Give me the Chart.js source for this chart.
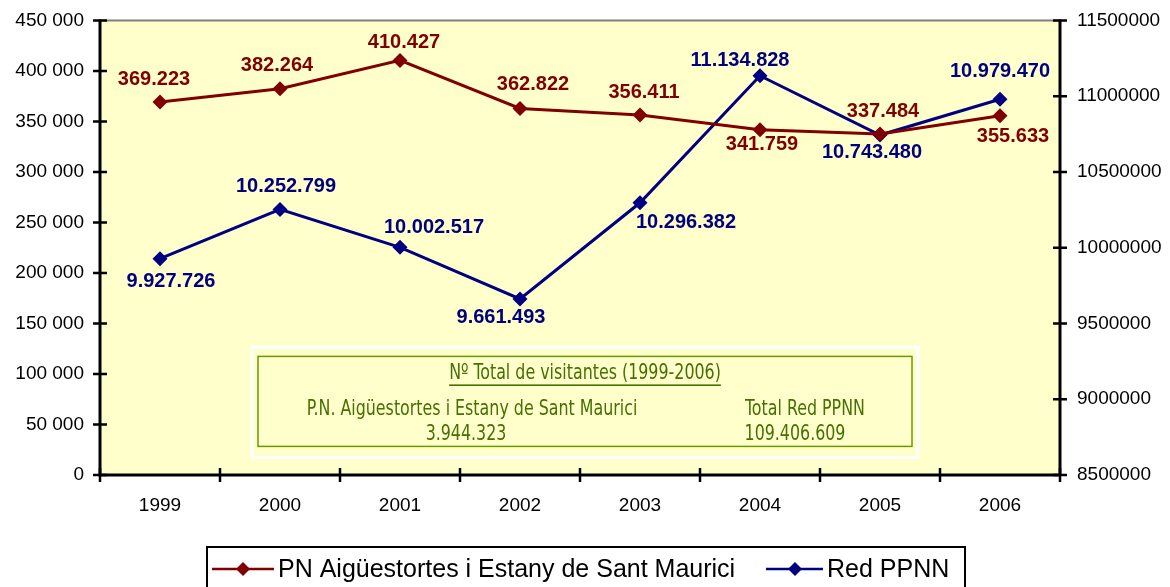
<!DOCTYPE html>
<html>
<head>
<meta charset="utf-8">
<script src="https://cdn.jsdelivr.net/npm/chart.js@4.4.1/dist/chart.umd.min.js"></script>
<style>
html,body{margin:0;padding:0;background:#fff}
</style>
</head>
<body>
<canvas id="myChart" width="1170" height="587"></canvas>
<script>
var years = ['1999','2000','2001','2002','2003','2004','2005','2006']
var parkVisitors = [369223,382264,410427,362822,356411,341759,337484,355633]
var networkVisitors = [9927726,10252799,10002517,9661493,10296382,11134828,10743480,10979470]
var leftTicks = [0,50000,100000,150000,200000,250000,300000,350000,400000,450000]
var rightTicks = [8500000,9000000,9500000,10000000,10500000,11000000,11500000]

var parkName = 'PN Aigüestortes i Estany de Sant Maurici'
var networkName = 'Red PPNN'
var boxTitle = 'Nº Total de visitantes (1999-2006)'
var boxParkName = 'P.N. Aigüestortes i Estany de Sant Maurici'
var boxParkTotal = '3.944.323'
var boxNetworkName = 'Total Red PPNN'
var boxNetworkTotal = '109.406.609'

// where each value label sits relative to its marker
var parkLabelPos = [[-6,-23],[-3,-23],[4,-18],[13,-24],[4,-22],[2,15],[3,-23],[13,21]]
var networkLabelPos = [[11,23],[6,-23],[34,-20],[-19,18],[46,20],[-20,-15],[-8,17],[0,-28]]

var RED = '#800000'
var BLUE = '#000080'
var FONT = "'Liberation Sans', Arial, sans-serif"
var NARROW = "'Liberation Sans Narrow', 'DejaVu Sans Condensed', Arial, sans-serif"

function dots(n){
    return n.toString().replace(/\B(?=(\d{3})+(?!\d))/g,'.')
}
function spaced(n){
    return n.toString().replace(/\B(?=(\d{3})+(?!\d))/g,' ')
}

function diamond(ctx,x,y,r,color){
    ctx.fillStyle=color
    ctx.beginPath()
    ctx.moveTo(x,y-r)
    ctx.lineTo(x+r,y)
    ctx.lineTo(x,y+r)
    ctx.lineTo(x-r,y)
    ctx.closePath()
    ctx.fill()
}

// narrow text, squeezed a little so it looks like the original condensed face
function narrowText(ctx,txt,x,y,underline){
    var sx=0.84
    ctx.save()
    ctx.translate(x,y)
    ctx.scale(sx,1)
    ctx.fillText(txt,0,0)
    if(underline){
        var w=ctx.measureText(txt).width
        ctx.fillRect(-w/2,11,w,1.6)
    }
    ctx.restore()
}

var framePlugin = {
    id:'frame',
    beforeDraw:function(chart){
        var ctx=chart.ctx, a=chart.chartArea
        ctx.save()
        ctx.fillStyle='#ffffcc'
        ctx.fillRect(a.left,a.top,a.right-a.left,a.bottom-a.top)
        ctx.restore()
    },
    beforeDatasetsDraw:function(chart){
        // summary box
        var ctx=chart.ctx, a=chart.chartArea
        ctx.save()
        ctx.strokeStyle='#ffffff'
        ctx.lineWidth=3
        ctx.strokeRect(a.left+152,a.top+327,666,110)
        ctx.strokeStyle='#6b9a00'
        ctx.lineWidth=1.5
        ctx.strokeRect(a.left+158,a.top+336,654,90)
        ctx.fillStyle='#467000'
        ctx.textAlign='center'
        ctx.textBaseline='middle'
        ctx.font='21px '+NARROW
        narrowText(ctx,boxTitle,a.left+485,a.top+353,true)
        narrowText(ctx,boxParkName,a.left+372,a.top+389)
        narrowText(ctx,boxParkTotal,a.left+366,a.top+414)
        narrowText(ctx,boxNetworkName,a.left+705,a.top+389)
        narrowText(ctx,boxNetworkTotal,a.left+695,a.top+414)
        ctx.restore()
    },
    afterDatasetsDraw:function(chart){
        var ctx=chart.ctx
        ctx.save()
        ctx.font='bold 20px '+FONT
        ctx.textAlign='center'
        ctx.textBaseline='middle'
        var sets=[[0,parkVisitors,parkLabelPos,RED],[1,networkVisitors,networkLabelPos,BLUE]]
        sets.forEach(function(s){
            var meta=chart.getDatasetMeta(s[0])
            ctx.fillStyle=s[3]
            meta.data.forEach(function(pt,i){
                ctx.fillText(dots(s[1][i]),pt.x+s[2][i][0],pt.y+s[2][i][1])
            })
        })
        ctx.restore()
    },
    afterDraw:function(chart){
        var ctx=chart.ctx, a=chart.chartArea
        var yl=chart.scales.y, yr=chart.scales.y1
        ctx.save()
        // top border
        ctx.strokeStyle='#808080'
        ctx.lineWidth=2
        ctx.beginPath()
        ctx.moveTo(a.left,a.top); ctx.lineTo(a.right,a.top)
        ctx.stroke()
        // axes
        ctx.strokeStyle='#000'
        ctx.lineWidth=3
        ctx.beginPath()
        ctx.moveTo(a.left,a.top-1); ctx.lineTo(a.left,a.bottom)
        ctx.lineTo(a.right,a.bottom)
        ctx.moveTo(a.right,a.top-1); ctx.lineTo(a.right,a.bottom+1)
        ctx.stroke()
        ctx.lineWidth=2.5
        ctx.beginPath()
        leftTicks.forEach(function(v){
            var y=yl.getPixelForValue(v)
            ctx.moveTo(a.left-7,y); ctx.lineTo(a.left+7,y)
        })
        rightTicks.forEach(function(v){
            var y=yr.getPixelForValue(v)
            ctx.moveTo(a.right-7,y); ctx.lineTo(a.right+7,y)
        })
        var step=(a.right-a.left)/years.length
        for(var i=0;i<=years.length;i++){
            var x=a.left+i*step
            ctx.moveTo(x,a.bottom-7); ctx.lineTo(x,a.bottom+7)
        }
        ctx.stroke()

        // legend
        ctx.lineWidth=2
        ctx.strokeRect(207,547,758,60)
        ctx.font='25px '+FONT
        ctx.textBaseline='middle'
        ctx.textAlign='left'
        var ly=569
        ctx.lineWidth=2.5
        ctx.strokeStyle=RED
        ctx.beginPath(); ctx.moveTo(212,ly); ctx.lineTo(274,ly); ctx.stroke()
        diamond(ctx,243,ly,7,RED)
        ctx.fillStyle='#000'
        ctx.fillText(parkName,278,ly+1)
        ctx.strokeStyle=BLUE
        ctx.beginPath(); ctx.moveTo(766,ly); ctx.lineTo(823,ly); ctx.stroke()
        diamond(ctx,795,ly,7,BLUE)
        ctx.fillStyle='#000'
        ctx.fillText(networkName,827,ly+1)
        ctx.restore()
    }
}

var ctx = document.getElementById('myChart')
var myChart = new Chart(ctx, {
    type: 'line',
    data: {
        labels: years,
        datasets: [{
            label: parkName,
            data: parkVisitors,
            yAxisID: 'y',
            borderColor: RED,
            backgroundColor: RED,
            borderWidth: 3,
            pointStyle: 'rectRot',
            pointRadius: 7.5,
            pointBorderWidth: 0,
            tension: 0,
            clip: false
        },{
            label: networkName,
            data: networkVisitors,
            yAxisID: 'y1',
            borderColor: BLUE,
            backgroundColor: BLUE,
            borderWidth: 3,
            pointStyle: 'rectRot',
            pointRadius: 7.5,
            pointBorderWidth: 0,
            tension: 0,
            clip: false
        }]
    },
    options: {
        responsive: false,
        animation: false,
        devicePixelRatio: 1,
        layout: { padding: { top: 14, left: 0, right: 0, bottom: 0 } },
        plugins: { legend: { display: false }, tooltip: { enabled: false } },
        scales: {
            x: {
                offset: true,
                grid: { display: false },
                border: { display: false },
                ticks: { color: '#000', font: { family: FONT, size: 19 }, padding: 11, maxRotation: 0 },
                afterFit: function(s){ s.height = 112 }
            },
            y: {
                position: 'left',
                min: 0, max: 450000,
                grid: { display: false },
                border: { display: false },
                afterBuildTicks: function(s){ s.ticks = leftTicks.map(function(v){ return {value:v} }) },
                ticks: { color: '#000', font: { family: FONT, size: 19 }, padding: 8,
                    callback: function(v){ return spaced(v) } },
                afterFit: function(s){ s.width = 100 }
            },
            y1: {
                position: 'right',
                min: 8500000, max: 11500000,
                grid: { display: false },
                border: { display: false },
                afterBuildTicks: function(s){ s.ticks = rightTicks.map(function(v){ return {value:v} }) },
                ticks: { color: '#000', font: { family: FONT, size: 19 }, padding: 9,
                    callback: function(v){ return String(v) } },
                afterFit: function(s){ s.width = 110 }
            }
        }
    },
    plugins: [framePlugin]
})
</script>
</body>
</html>
